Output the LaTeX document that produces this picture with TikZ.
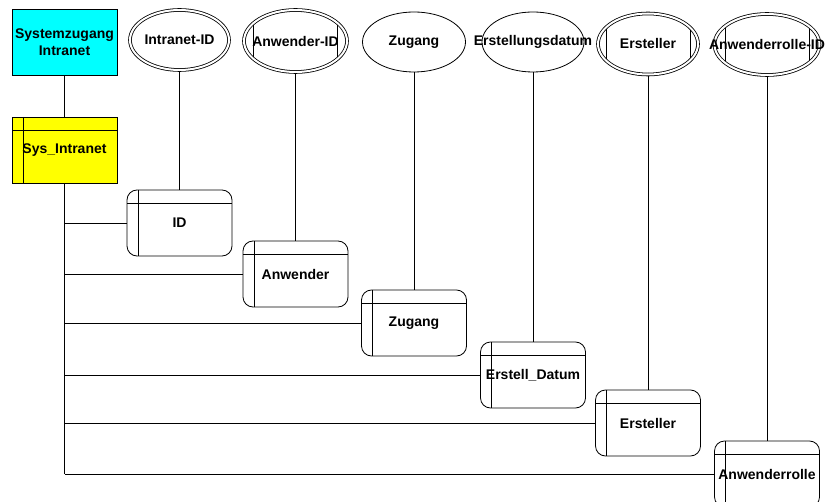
\documentclass[tikz,border=0pt]{standalone}
\usepackage{fontspec}
\setmainfont{Liberation Sans}
\usetikzlibrary{shapes.geometric}
\definecolor{objektfarbe}{RGB}{0,255,255}
\definecolor{tabellenfarbe}{RGB}{255,255,0}

\begin{document}
\begin{tikzpicture}[x=1pt,y=-1pt,line width=.8pt,
  font=\fontsize{14}{18}\selectfont\bfseries,
  tabelle/.style={draw,rounded corners=10pt,minimum width=105pt,minimum height=66pt,inner sep=0pt,
    path picture={\draw ([xshift=11pt]path picture bounding box.north west)--([xshift=11pt]path picture bounding box.south west);
      \draw ([yshift=-13pt]path picture bounding box.north west)--([yshift=-13pt]path picture bounding box.north east);}},
  attr/.style={draw,ellipse,inner sep=0pt},
  schluessel/.style={attr,double,double distance=2pt,outer sep=1.8pt},
  sehnen/.style={path picture={\draw ([xshift=-42pt]path picture bounding box.north)--([xshift=-42pt]path picture bounding box.south);
      \draw ([xshift=42pt]path picture bounding box.north)--([xshift=42pt]path picture bounding box.south);}}]
\useasboundingbox (0,0) rectangle (829,502);
% Objekt und Tabelle
\node[draw,fill=objektfarbe,minimum width=105pt,minimum height=66pt,align=center,inner sep=0pt] (objekt) at (64.5,42) {Systemzugang\\[-1pt]Intranet};
\node[tabelle,rounded corners=0pt,fill=tabellenfarbe] (sys) at (64.5,150) {Sys\_Intranet};
\draw (objekt)--(sys);
% Attribute
\node[schluessel,minimum width=99pt,minimum height=60pt,label=center:{Intranet-ID}] (aid) at (179.5,40) {};
\node[schluessel,sehnen,minimum width=103pt,minimum height=62pt,label=center:{Anwender-ID}] (aanw) at (295.5,41) {};
\node[attr,minimum width=103pt,minimum height=60pt,label=center:{Zugang}] (azug) at (414,42) {};
\node[attr,minimum width=102pt,minimum height=60pt,label=center:{Erstellungsdatum}] (adat) at (533,42) {};
\node[schluessel,sehnen,minimum width=100pt,minimum height=61pt,label=center:{Ersteller}] (aerst) at (648,44) {};
\node[schluessel,sehnen,minimum width=105pt,minimum height=61pt,label=center:{Anwenderrolle-ID}] (arolle) at (767,44.5) {};
% Spalten
\node[tabelle] (id) at (179.5,223) {ID};
\node[tabelle] (anw) at (295.5,274) {Anwender};
\node[tabelle] (zug) at (414,323) {Zugang};
\node[tabelle] (dat) at (533,375) {Erstell\_Datum};
\node[tabelle] (erst) at (648,423) {Ersteller};
\node[tabelle] (rolle) at (767,474) {Anwenderrolle};
\draw (aid)--(id);
\draw (aanw)--(anw);
\draw (azug)--(zug);
\draw (adat)--(dat);
\draw (aerst)--(erst);
\draw (arolle)--(rolle);
\draw (sys.south)--(sys.south |- rolle.west);
\foreach \s in {id,anw,zug,dat,erst,rolle}
  \draw (sys.south |- \s.west)--(\s.west);
\end{tikzpicture}
\end{document}
